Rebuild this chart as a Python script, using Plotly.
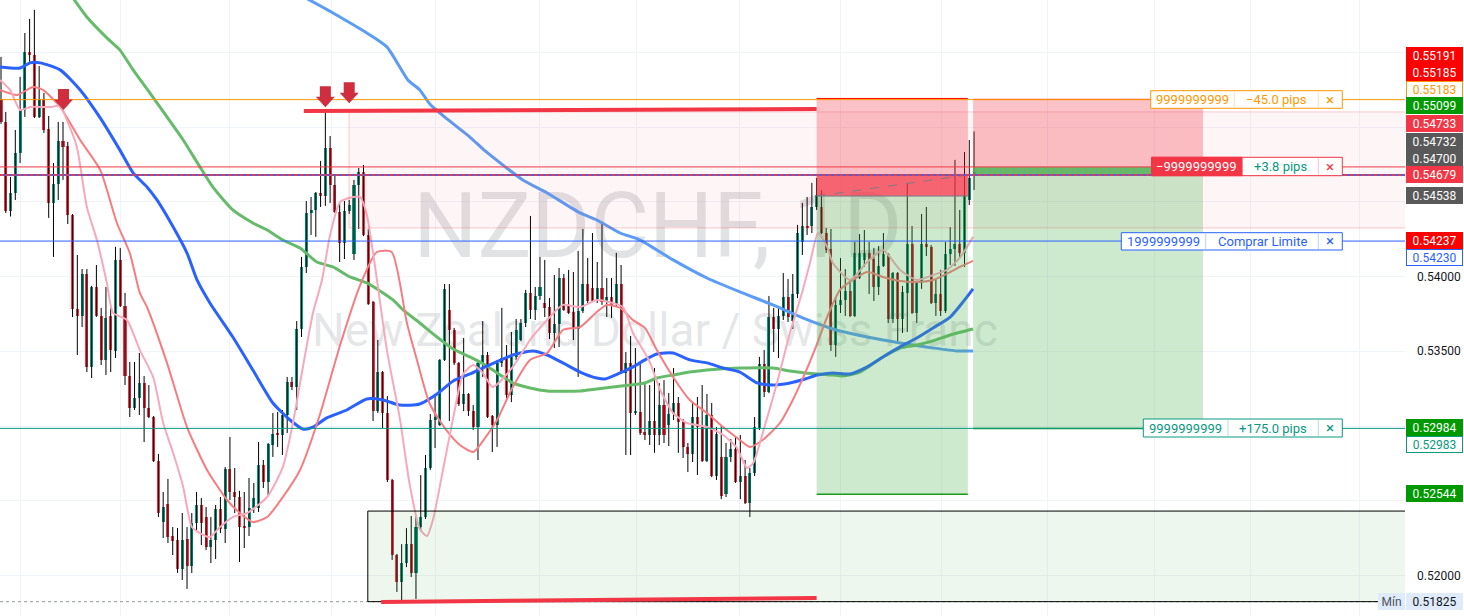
import plotly.graph_objects as go

# ---------------- data (daily bars, NZDCHF) ----------------
bar_open = [0.55188,0.55034,0.54438,0.54559,0.54826,0.55114,0.55502,0.55482,0.55067,0.55188,
0.54987,0.54492,0.54619,0.54907,0.54874,0.54412,0.53783,0.53736,0.54017,0.53395,
0.53930,0.53736,0.53442,0.53736,0.53502,0.54111,0.53803,0.53334,0.53120,0.53187,
0.53287,0.53120,0.53060,0.52766,0.52358,0.52478,0.52264,0.52237,0.52043,0.52244,
0.52063,0.52351,0.52472,0.52391,0.52190,0.52237,0.52445,0.52310,0.52713,0.52559,
0.52525,0.52331,0.52324,0.52451,0.52451,0.52739,0.52625,0.52873,0.52947,0.52940,
0.53074,0.53294,0.53260,0.53649,0.54064,0.54425,0.54445,0.54559,0.54539,0.54860,
0.54612,0.54431,0.54224,0.54438,0.54151,0.54612,0.54699,0.54278,0.53830,0.53100,
0.53361,0.53087,0.52639,0.52137,0.51957,0.52083,0.52210,0.52017,0.52324,0.52391,
0.52719,0.53040,0.53007,0.53442,0.53776,0.53642,0.53422,0.53147,0.53214,0.53100,
0.52993,0.53422,0.53475,0.53067,0.53007,0.53422,0.53455,0.53207,0.53462,0.53575,
0.53689,0.53890,0.53776,0.53870,0.53823,0.53796,0.53622,0.53682,0.53990,0.53803,
0.53763,0.53649,0.53770,0.53950,0.53923,0.53836,0.53923,0.53830,0.53863,0.53816,
0.53950,0.53354,0.53422,0.53087,0.53094,0.52960,0.52940,0.53033,0.52940,0.53141,
0.53007,0.53080,0.53154,0.53027,0.52860,0.52813,0.53060,0.52993,0.52766,0.53074,
0.52665,0.52793,0.52545,0.52793,0.52846,0.52625,0.52665,0.52485,0.52686,0.52987,
0.53415,0.53227,0.53729,0.53649,0.53736,0.53863,0.53703,0.53883,0.54231,0.54338,
0.54338,0.54465,0.54465,0.54291,0.54184,0.53542,0.53810,0.53843,0.53903,0.53736,
0.53990,0.54111,0.54157,0.54117,0.53930,0.54071,0.54151,0.53716,0.54023,0.53716,
0.53890,0.54218,0.53756,0.53957,0.54218,0.54198,0.53823,0.53883,0.53770,0.54151,
0.54184,0.54218,0.54157,0.54512,0.54700]
bar_high = [0.55469,0.55101,0.54666,0.54980,0.55335,0.55629,0.55723,0.55783,0.55408,0.55228,
0.55074,0.54759,0.55034,0.55034,0.54900,0.54418,0.54144,0.54050,0.54050,0.53937,
0.54077,0.53790,0.53930,0.53790,0.54198,0.54191,0.53890,0.53428,0.53428,0.53488,
0.53334,0.53274,0.53067,0.52813,0.52559,0.52646,0.52324,0.52318,0.52418,0.52324,
0.52418,0.52559,0.52518,0.52458,0.52391,0.52472,0.52525,0.52726,0.52926,0.52719,
0.52566,0.52559,0.52652,0.52619,0.52893,0.52773,0.52886,0.53087,0.53094,0.53107,
0.53328,0.53328,0.53702,0.54131,0.54505,0.54532,0.54565,0.54773,0.55114,0.54940,
0.54679,0.54492,0.54505,0.54512,0.54646,0.54726,0.54746,0.54318,0.53837,0.53575,
0.53368,0.53200,0.52646,0.52144,0.52210,0.52317,0.52398,0.52398,0.52672,0.52806,
0.53080,0.53200,0.53448,0.53950,0.53950,0.53656,0.53428,0.53589,0.53220,0.53140,
0.53442,0.53702,0.53495,0.53074,0.53442,0.53790,0.53542,0.53629,0.53716,0.53716,
0.53910,0.54405,0.53930,0.54131,0.54111,0.53856,0.54010,0.54057,0.54017,0.54044,
0.54030,0.54171,0.54318,0.54124,0.54291,0.54097,0.54365,0.53990,0.53990,0.54158,
0.54077,0.53495,0.53602,0.53522,0.53428,0.53287,0.53274,0.53388,0.53287,0.53307,
0.53221,0.53388,0.53194,0.53047,0.52886,0.53160,0.53194,0.53274,0.53214,0.53154,
0.52993,0.53000,0.52886,0.52913,0.52926,0.52940,0.52773,0.52719,0.53060,0.53462,
0.53508,0.53870,0.53790,0.53796,0.54023,0.53983,0.54017,0.54345,0.54492,0.54532,
0.54626,0.54659,0.54579,0.54325,0.54318,0.53856,0.54124,0.54050,0.53983,0.54231,
0.54284,0.54311,0.54231,0.54191,0.54204,0.54291,0.54157,0.54030,0.54030,0.53937,
0.54626,0.54338,0.53965,0.54418,0.54465,0.54211,0.53980,0.54044,0.54231,0.54331,
0.54780,0.54445,0.54833,0.54913,0.54970]
bar_low = [0.55021,0.54425,0.54401,0.54512,0.54759,0.55067,0.55435,0.55060,0.55060,0.54960,
0.54392,0.54131,0.54512,0.54646,0.54351,0.53729,0.53475,0.53662,0.53361,0.53321,
0.53730,0.53408,0.53341,0.53361,0.53455,0.53796,0.53274,0.53060,0.53107,0.53074,
0.52893,0.53053,0.52759,0.52391,0.52251,0.52217,0.52137,0.52017,0.51970,0.51910,
0.52017,0.52290,0.52204,0.52170,0.52083,0.52110,0.52284,0.52217,0.52505,0.52418,
0.52090,0.52184,0.52264,0.52418,0.52425,0.52585,0.52539,0.52793,0.52860,0.52806,
0.52953,0.53240,0.53107,0.53595,0.54023,0.54278,0.54265,0.54465,0.54472,0.54492,
0.54425,0.54097,0.54117,0.54418,0.54111,0.54318,0.54270,0.53810,0.53033,0.53087,
0.52987,0.52625,0.52104,0.51890,0.51836,0.52056,0.51990,0.51843,0.52297,0.52378,
0.52706,0.52853,0.53000,0.53435,0.53033,0.53408,0.53134,0.53100,0.53067,0.52973,
0.52773,0.53328,0.53053,0.52826,0.52860,0.53395,0.53174,0.53160,0.53442,0.53568,
0.53662,0.53716,0.53709,0.53843,0.53729,0.53582,0.53522,0.53528,0.53770,0.53750,
0.53575,0.53328,0.53756,0.53823,0.53830,0.53823,0.53810,0.53729,0.53723,0.53803,
0.53348,0.52806,0.52806,0.53074,0.52940,0.52906,0.52873,0.52820,0.52873,0.52886,
0.52866,0.53040,0.52820,0.52786,0.52692,0.52759,0.52672,0.52759,0.52759,0.52658,
0.52639,0.52511,0.52525,0.52759,0.52619,0.52511,0.52478,0.52391,0.52665,0.52973,
0.53194,0.53220,0.53495,0.53455,0.53709,0.53696,0.53649,0.53856,0.54144,0.54278,
0.54291,0.54445,0.54284,0.54157,0.53502,0.53462,0.53756,0.53736,0.53729,0.53729,
0.53983,0.54064,0.53883,0.53836,0.53876,0.54064,0.53689,0.53689,0.53568,0.53622,
0.53629,0.53750,0.53689,0.53917,0.54137,0.53816,0.53736,0.53736,0.53756,0.54077,
0.54070,0.54124,0.54064,0.54478,0.54579]
bar_close = [0.55034,0.54438,0.54559,0.54826,0.55114,0.55502,0.55482,0.55067,0.55188,0.54980,
0.54492,0.54619,0.54907,0.54867,0.54412,0.53783,0.53736,0.54017,0.53395,0.53930,
0.53736,0.53442,0.53722,0.53508,0.54111,0.53803,0.53334,0.53120,0.53187,0.53287,
0.53120,0.53060,0.52766,0.52418,0.52458,0.52257,0.52230,0.52043,0.52237,0.52063,
0.52351,0.52472,0.52351,0.52190,0.52237,0.52445,0.52310,0.52713,0.52559,0.52525,
0.52324,0.52324,0.52451,0.52518,0.52739,0.52625,0.52880,0.52947,0.52940,0.53074,
0.53294,0.53260,0.53649,0.54064,0.54425,0.54445,0.54559,0.54539,0.54860,0.54612,
0.54431,0.54224,0.54438,0.54478,0.54612,0.54699,0.54278,0.53816,0.53100,0.53361,
0.53087,0.52639,0.52137,0.51957,0.52083,0.52210,0.52017,0.52324,0.52391,0.52719,
0.53040,0.53060,0.53442,0.53917,0.53642,0.53422,0.53147,0.53214,0.53100,0.52993,
0.53422,0.53475,0.53060,0.53007,0.53422,0.53455,0.53207,0.53462,0.53642,0.53689,
0.53890,0.53776,0.53870,0.53930,0.53790,0.53622,0.53682,0.53990,0.53776,0.53756,
0.53649,0.53770,0.53950,0.53836,0.53836,0.53923,0.53830,0.53863,0.53810,0.53950,
0.53354,0.53422,0.53087,0.53094,0.52953,0.52940,0.53033,0.52940,0.53141,0.52940,
0.53080,0.53154,0.53027,0.52860,0.52813,0.53060,0.52993,0.52766,0.53074,0.52665,
0.52947,0.52532,0.52793,0.52846,0.52625,0.52665,0.52485,0.52686,0.52993,0.53415,
0.53227,0.53729,0.53649,0.53736,0.53863,0.53729,0.53883,0.54291,0.54338,0.54325,
0.54465,0.54546,0.54291,0.54178,0.53542,0.53810,0.53843,0.53903,0.53736,0.54157,
0.54157,0.54157,0.54111,0.53930,0.54071,0.54151,0.53716,0.54023,0.53716,0.53897,
0.54218,0.53756,0.53957,0.54218,0.54198,0.53823,0.53883,0.53770,0.54151,0.54184,
0.54218,0.54157,0.54546,0.54659,0.54679]

# moving averages (bar index, price)
ma_pink_idx = [-0.2,1.9,4,6.1,10.3,12.4,13.8,15.9,18,20.1,22.2,23.5,26.4,29.1,31.9,34,36.1,38.2,40,41.7,43.8,45.9,48.6,51.6,55.8,59.1,61.2,63.3,65.4,67.3,69,71.1,73.8,75.3,76.7,78.4,80.9,83.6,85.7,87.8,89.3,90.6,92.7,94.8,96.9,99,101,103.1,107.3,110.9,114.5,117.8,121.4,124.9,128.3,130.4,132.5,135,136.1,138.2,140.9,143.8,148,151.4,154.3,156.4,157.7,159.7,162.7,165.4,168.1,169.6,171.3,173.2,174.4,178,181.6,184.9,188.5,192,195.4,198.3,201,203.8]
ma_pink_val = [0.55315,0.55248,0.55114,0.55134,0.55134,0.55141,0.55047,0.54867,0.54465,0.54244,0.53957,0.53756,0.53709,0.53508,0.53328,0.53020,0.52819,0.52592,0.52324,0.52284,0.52257,0.52324,0.52391,0.52418,0.52525,0.52726,0.53020,0.53395,0.53756,0.53977,0.54278,0.54499,0.54532,0.54532,0.54412,0.54071,0.53508,0.53054,0.52605,0.52311,0.52264,0.52378,0.52712,0.53054,0.53348,0.53408,0.53355,0.53261,0.53395,0.53575,0.53709,0.53810,0.53796,0.53843,0.53823,0.53796,0.53622,0.53488,0.53422,0.53241,0.53087,0.53020,0.52993,0.52940,0.52853,0.52719,0.52752,0.52953,0.53288,0.53622,0.53910,0.54090,0.54291,0.54198,0.54090,0.53977,0.54097,0.54177,0.54044,0.53977,0.54010,0.54044,0.54124,0.54265]

ma_salmon_idx = [-0.2,3.4,6.7,8.8,12.4,16.6,20.8,24.3,27,29.1,30.6,34.8,39,43.2,47.4,50.1,52.8,55.8,59.1,62.7,66.8,71.1,75.3,78.8,81.9,85.1,87.2,89.9,93.5,96.2,99,101.5,104,107.3,110.9,114.5,117.8,121.4,124.9,127,129.8,132.5,135,137.5,140.9,144.4,148,151.4,154.9,157,159.7,163.3,166,168.6,170.6,173.2,175.9,178.6,181.6,184.9,188.5,192,195.4,199,201,203.8]
ma_salmon_val = [0.55248,0.55214,0.55268,0.55248,0.55134,0.54913,0.54713,0.54358,0.54157,0.53890,0.53796,0.53422,0.52993,0.52706,0.52505,0.52418,0.52358,0.52391,0.52525,0.52706,0.53070,0.53542,0.53943,0.54164,0.54164,0.53689,0.53442,0.53147,0.52967,0.52873,0.52826,0.52920,0.53040,0.53261,0.53442,0.53488,0.53642,0.53662,0.53763,0.53810,0.53790,0.53709,0.53656,0.53508,0.53328,0.53174,0.53087,0.52993,0.52906,0.52860,0.52906,0.53020,0.53174,0.53355,0.53509,0.53729,0.53910,0.53977,0.54030,0.53997,0.53970,0.53963,0.53977,0.54030,0.54064,0.54104]

ma_blue_idx = [-0.2,4,6.1,8.2,12.4,16.6,20.8,24.9,27.7,30.6,32.7,36.1,39,41.1,43.8,48.6,52.8,57,60.6,63.3,65.4,68.3,72.5,76.7,80.1,83.6,87.8,91.4,94.8,98.3,101.5,107.3,111.5,114.5,117.8,121.4,124.9,126.6,129.8,132.5,135,137.5,140.9,144.4,148,151.4,154.9,158.5,161.8,165.4,168.6,171.1,174.4,178,181.6,184.9,188.5,192,195.4,199,201.7,203.8]
ma_blue_val = [0.55402,0.55395,0.55429,0.55429,0.55382,0.55248,0.55061,0.54847,0.54693,0.54599,0.54512,0.54331,0.54157,0.53977,0.53823,0.53595,0.53375,0.53154,0.53040,0.52980,0.52993,0.53054,0.53107,0.53181,0.53174,0.53140,0.53147,0.53214,0.53301,0.53348,0.53395,0.53475,0.53502,0.53475,0.53422,0.53361,0.53321,0.53314,0.53355,0.53395,0.53442,0.53482,0.53488,0.53442,0.53422,0.53388,0.53361,0.53288,0.53274,0.53288,0.53314,0.53341,0.53355,0.53348,0.53395,0.53462,0.53529,0.53589,0.53656,0.53729,0.53830,0.53917]

ma_green_idx = [14.5,18,22.2,24.9,27.7,31.2,34.8,38.2,41.7,44.4,48.6,52.8,55.8,59.1,62.7,66.2,69.6,73.2,76.7,80.1,82.2,84.3,87.8,91.4,94.8,98.3,101.5,104,107.3,110.9,114.5,121.4,124.9,128.3,131.9,135,137.5,140.9,144.4,148,154.9,161.8,165.4,168.6,174.4,176.5,180.1,184.9,188.5,192,195.4,199,203.8]
ma_green_val = [0.55890,0.55736,0.55596,0.55516,0.55382,0.55228,0.55067,0.54913,0.54733,0.54599,0.54445,0.54358,0.54311,0.54244,0.54191,0.54097,0.54064,0.53997,0.53957,0.53890,0.53843,0.53776,0.53689,0.53595,0.53515,0.53462,0.53408,0.53355,0.53288,0.53254,0.53234,0.53234,0.53248,0.53261,0.53274,0.53288,0.53321,0.53341,0.53361,0.53375,0.53388,0.53388,0.53368,0.53355,0.53341,0.53335,0.53361,0.53462,0.53522,0.53542,0.53569,0.53609,0.53649]

ma_lblue_idx = [63.5,69.6,76.7,80.9,85.3,87.8,89.9,93.5,98.3,101.5,109.4,114.5,121.4,124.9,129.8,134,140.9,148,154.9,161.8,168.6,174.4,181.6,188.5,195.4,200.4,203.8]
ma_lblue_val = [0.55870,0.55763,0.55629,0.55536,0.55315,0.55248,0.55154,0.55054,0.54933,0.54840,0.54646,0.54559,0.54425,0.54378,0.54291,0.54244,0.54111,0.53990,0.53897,0.53810,0.53716,0.53649,0.53595,0.53555,0.53522,0.53502,0.53502]

# price levels of orders / lines
stop_order = 0.55183      # orange order, -45.0 pips
sell_order = 0.54733      # red order, +3.8 pips
last_price = 0.54679
buy_limit = 0.54237       # "Comprar Limite"
take_profit = 0.52984     # +175.0 pips
range_min = 0.51825

# price-scale ticks (those hidden behind labels in the reference have no text)
scale_ticks = [0.520, 0.525, 0.530, 0.535, 0.540, 0.545, 0.550, 0.555]
scale_hidden = [0.525, 0.530, 0.545, 0.550, 0.555]

# axis-label values (right scale)
axis_labels = [0.55191, 0.55185, 0.55183, 0.55099, 0.54733, 0.54732, 0.54700,
               0.54679, 0.54538, 0.54237, 0.54230, 0.52984, 0.52983, 0.52544, 0.51825]

# drawings in (bar index, price)
pos_left = dict(x0=171.0, x1=202.7, stop=0.55191, entry=0.54538, target=0.52544, cur=0.54679)
pos_right = dict(x0=203.8, x1=252.0, stop=0.55185, entry=0.54733, target=0.52984, cur=0.54679)
pink_zone = dict(x0=72.96, y0=0.54325, y1=0.55101)
green_zone = dict(x0=76.9, y0=0.51825, y1=0.52431)
red_top_line = [(63.5, 0.55107), (171.0, 0.55120)]
red_bottom_line = [(79.7, 0.51823), (171.0, 0.51850)]
arrows = [(13.1, 0.55114), (68.0, 0.55132), (73.0, 0.55159)]
month_grid = [4.13, 25.1, 47.8, 69.2, 91.0, 112.8, 133.3, 154.9, 175.9, 197.1, 219.5, 241.9, 262.0, 284.9]

# ---------------- figure ----------------
W, H = 1464, 616
PW = 1405
X_RANGE = [-0.21, 294.35]
Y_RANGE = [0.517291, 0.558495]
FONT = "Roboto, 'Trebuchet MS', sans-serif"
GREEN, RED = "#089981", "#f23645"

def px(xp):
    return xp / PW

def py(yp):
    return 1 - yp / H

fig = go.Figure()

# watermark (behind everything)
fig.add_trace(go.Scatter(x=[137.7], y=[0.54278], mode="text", text=["NZDCHF, 1D"],
                         textfont=dict(size=90, color="rgba(120,123,134,0.22)", family=FONT),
                         hoverinfo="skip"))
fig.add_trace(go.Scatter(x=[137.1], y=[0.53609], mode="text", text=["New Zealand Dollar / Swiss Franc"],
                         textfont=dict(size=46, color="rgba(120,123,134,0.20)", family=FONT),
                         hoverinfo="skip"))

# wicks
wx, wy = [], []
for i, (h, l) in enumerate(zip(bar_high, bar_low)):
    wx += [i, i, None]
    wy += [l, h, None]
fig.add_trace(go.Scatter(x=wx, y=wy, mode="lines", line=dict(color="#000000", width=1), hoverinfo="skip"))

# bodies
idx = list(range(len(bar_open)))
base = [min(o, c) for o, c in zip(bar_open, bar_close)]
hgt = [max(abs(c - o), 0.00003) for o, c in zip(bar_open, bar_close)]
cols = [GREEN if c >= o else RED for o, c in zip(bar_open, bar_close)]
fig.add_trace(go.Bar(x=idx, y=hgt, base=base, width=0.64, marker=dict(color=cols, line=dict(width=0)),
                     hoverinfo="skip"))

# moving averages
def ma(xs, ys, color, width):
    fig.add_trace(go.Scatter(x=xs, y=ys, mode="lines", line=dict(color=color, width=width, shape="spline", smoothing=0.6),
                             hoverinfo="skip"))

ma(ma_lblue_idx, ma_lblue_val, "#5b9cf6", 3)
ma(ma_green_idx, ma_green_val, "#66bb6a", 3)
ma(ma_blue_idx, ma_blue_val, "#2962ff", 3)
ma(ma_salmon_idx, ma_salmon_val, "#f77c80", 2)
ma(ma_pink_idx, ma_pink_val, "#f7a9bb", 2)

shapes = []
def rect(x0, x1, y0, y1, fill, line_color=None, lw=0, xref="x", yref="y"):
    shapes.append(dict(type="rect", xref=xref, yref=yref, x0=x0, x1=x1, y0=y0, y1=y1,
                       fillcolor=fill, line=dict(color=line_color or "rgba(0,0,0,0)", width=lw), layer="above"))

def hline(y, color, width=1, dash="solid", x0=0, x1=1, xref="paper"):
    shapes.append(dict(type="line", xref=xref, yref="y", x0=x0, x1=x1, y0=y, y1=y,
                       line=dict(color=color, width=width, dash=dash), layer="above"))

# rectangles
rect(pink_zone["x0"], 320, pink_zone["y0"], pink_zone["y1"], "rgba(242,54,69,0.05)", "rgba(242,54,69,0.25)", 1)
hline(range_min, "#9598a1", 1, "dot")
rect(green_zone["x0"], 320, green_zone["y0"], green_zone["y1"], "rgba(76,175,80,0.10)", "#000000", 1)

# position tools
for p, band_col in ((pos_left, "rgba(242,54,69,0.65)"), (pos_right, "rgba(76,175,80,0.80)")):
    rect(p["x0"], p["x1"], p["entry"], p["stop"], "rgba(242,54,69,0.30)")
    rect(p["x0"], p["x1"], p["target"], p["entry"], "rgba(76,175,80,0.28)")
    rect(p["x0"], p["x1"], min(p["entry"], p["cur"]), max(p["entry"], p["cur"]), band_col)
    shapes.append(dict(type="line", xref="x", yref="y", x0=p["x0"], x1=p["x1"], y0=p["stop"], y1=p["stop"],
                       line=dict(color="#ff0000", width=1), layer="above"))
    shapes.append(dict(type="line", xref="x", yref="y", x0=p["x0"], x1=p["x1"], y0=p["target"], y1=p["target"],
                       line=dict(color="#1a9b1a", width=1.5), layer="above"))
shapes.append(dict(type="line", xref="x", yref="y", x0=pos_left["x0"], x1=pos_left["x1"],
                   y0=pos_left["entry"], y1=pos_left["entry"], line=dict(color="#787b86", width=1), layer="above"))
shapes.append(dict(type="line", xref="x", yref="y", x0=pos_left["x0"], x1=pos_left["x1"],
                   y0=pos_left["entry"], y1=pos_left["cur"], line=dict(color="#787b86", width=1, dash="dash"), layer="above"))

# order lines
hline(stop_order, "#ff9800", 1)
hline(sell_order, "#f23645", 1)
hline(last_price, "#4a63d8", 2)
hline(last_price, "#f23645", 2, "3px,3px")
hline(buy_limit, "#2962ff", 1)
hline(take_profit, "#089981", 1)

# hand-drawn thick red lines
for seg in (red_top_line, red_bottom_line):
    shapes.append(dict(type="line", xref="x", yref="y", x0=seg[0][0], y0=seg[0][1], x1=seg[1][0], y1=seg[1][1],
                       line=dict(color="#f23645", width=4), layer="above"))

# arrows (pixel sized, anchored at tip)
for ax_, ay_ in arrows:
    shapes.append(dict(type="path", xref="x", yref="y", xsizemode="pixel", ysizemode="pixel",
                       xanchor=ax_, yanchor=ay_,
                       path="M 0,0 L -9.5,10.5 L -5.5,10.5 L -5.5,21 L 5.5,21 L 5.5,10.5 L 9.5,10.5 Z",
                       fillcolor="#cf2e3e", line=dict(width=0), layer="above"))

# order boxes (pixel layout)
annotations = []
def txt(xc, yc, s, color, size=13, xref="paper", yref="paper"):
    annotations.append(dict(xref=xref, yref=yref, x=xc, y=yc, text=s, showarrow=False,
                            font=dict(family=FONT, size=size, color=color), xanchor="center", yanchor="middle"))

def order_box(top, bot, x0, divs, x1, color, parts, part_colors, left_fill=None):
    rect(px(x0), px(x1), py(bot), py(top), "#ffffff", color, 1, xref="paper", yref="paper")
    if left_fill:
        rect(px(x0), px(divs[0]), py(bot), py(top), left_fill, left_fill, 1, xref="paper", yref="paper")
    for d in divs:
        shapes.append(dict(type="line", xref="paper", yref="paper", x0=px(d), x1=px(d), y0=py(bot - 1), y1=py(top + 1),
                           line=dict(color=color, width=1), opacity=0.3, layer="above"))
    edges = [x0] + divs + [x1]
    for k, s in enumerate(parts):
        txt(px((edges[k] + edges[k + 1]) / 2), py((top + bot) / 2), s, part_colors[k],
            size=15 if s == "×" else 13)

order_box(90.7, 108.3, 1150.7, [1234.3, 1318.3], 1342.3, "#ff9800",
          ["9999999999", "−45.0 pips", "×"], ["#ff9800", "#ff9800", "#ff9800"])
order_box(157.3, 175.7, 1151.7, [1242.0, 1318.3], 1342.3, RED,
          ["−9999999999", "+3.8 pips", "×"], ["#ffffff", GREEN, RED], left_fill=RED)
order_box(232.7, 250.0, 1121.3, [1205.7, 1318.3], 1342.3, "#2962ff",
          ["1999999999", "Comprar Limite", "×"], ["#2962ff", "#2962ff", "#2962ff"])
order_box(419.0, 437.0, 1143.3, [1228.0, 1318.3], 1342.3, GREEN,
          ["9999999999", "+175.0 pips", "×"], [GREEN, GREEN, GREEN])

# right-scale labels (stacked positions in pixels)
label_style = [
    (55.7, "#ff0000", "#ffffff", None), (73.0, "#ff0000", "#ffffff", None),
    (89.5, "#ffffff", "#ff9800", "#ff9800"), (106.0, "#009900", "#ffffff", None),
    (123.7, "#f23645", "#ffffff", None), (141.0, "#595959", "#ffffff", None),
    (158.0, "#595959", "#ffffff", None), (174.7, "#f23645", "#ffffff", None),
    (195.3, "#595959", "#ffffff", None), (241.0, "#ff0000", "#ffffff", None),
    (258.0, "#ffffff", "#2962ff", "#2962ff"), (427.5, "#009900", "#ffffff", None),
    (444.5, "#ffffff", "#089981", "#089981"), (493.3, "#009900", "#ffffff", None),
    (601.7, "#dfeafb", "#131722", None),
]
for val, (yc, bg, fg, border) in zip(axis_labels, label_style):
    annotations.append(dict(xref="paper", yref="paper", x=px(1406.5), y=py(yc), xanchor="left", yanchor="middle",
                            text=f"{val:.5f}", showarrow=False, bgcolor=bg, bordercolor=border or bg,
                            borderwidth=1, borderpad=1, width=53, height=13,
                            font=dict(family=FONT, size=12, color=fg)))
annotations.append(dict(xref="paper", yref="paper", x=px(1378), y=py(601.7), xanchor="left", yanchor="middle",
                        text="Mín", showarrow=False, bgcolor="#dfeafb", bordercolor="#dfeafb",
                        borderwidth=1, borderpad=1, width=23, height=13,
                        font=dict(family=FONT, size=12, color="#50535e")))

tick_text = ["" if any(abs(t - h) < 1e-9 for h in scale_hidden) else f"{t:.5f}" for t in scale_ticks]

fig.update_layout(
    width=W, height=H, margin=dict(l=0, r=W - PW, t=0, b=0, autoexpand=False),
    paper_bgcolor="#ffffff", plot_bgcolor="#ffffff",
    showlegend=False, hovermode=False, dragmode=False,
    shapes=shapes, annotations=annotations, bargap=0,
    xaxis=dict(range=X_RANGE, showticklabels=False, ticks="", tickvals=month_grid, showgrid=True,
               gridcolor="#f0f3fa", gridwidth=1, zeroline=False, showline=False, fixedrange=True),
    yaxis=dict(range=Y_RANGE, side="right", tickvals=scale_ticks, ticktext=tick_text, showgrid=True,
               gridcolor="#f0f3fa", gridwidth=1, zeroline=False, showline=False, ticks="",
               ticklabelstandoff=11, tickfont=dict(family=FONT, size=12, color="#131722"), fixedrange=True),
)

fig.write_html("out.html", config={"displayModeBar": False},
               post_script="document.body.style.margin='0';document.body.style.overflow='hidden';")
